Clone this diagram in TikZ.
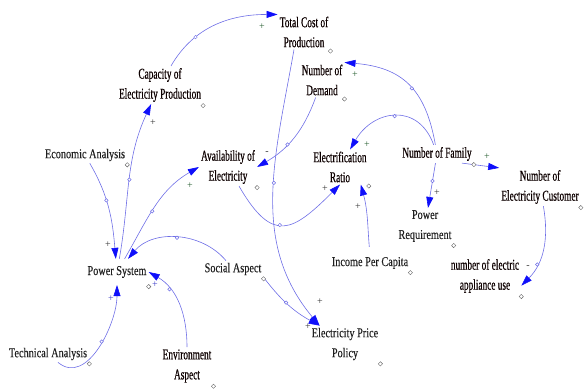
\documentclass[tikz,border=0pt]{standalone}
\usepackage{fontspec}
\setmainfont{Liberation Serif}
\newfontfamily\plainlab{Liberation Serif}[FakeStretch=0.76,FakeBold=0.15]
\newfontfamily\darklab{Liberation Serif}[FakeStretch=0.62,FakeBold=0.5]
\usetikzlibrary{arrows.meta,shapes.geometric}
\definecolor{linkblue}{RGB}{110,110,230}
\definecolor{headblue}{RGB}{15,15,250}
\definecolor{plusgreen}{RGB}{40,95,50}
\definecolor{plusblue}{RGB}{60,60,200}

\begin{document}
\begin{tikzpicture}[x=1pt,y=1pt]
    \tikzstyle{var} = [inner sep=2pt, align=center, text=black!88, font=\plainlab\fontsize{13.5}{20}\selectfont]
    \tikzstyle{vard} = [var, text=black!95!red, font=\darklab\fontsize{15}{20}\selectfont]
    \tikzstyle{link} = [draw=linkblue, line width=0.6pt, -{Triangle[length=11pt,width=7pt,color=headblue]}]
    \tikzstyle{mid} = [circle, draw=linkblue, fill=white, inner sep=0pt, minimum size=3.5pt, line width=0.5pt]
    \tikzstyle{dia} = [diamond, draw=black!60, fill=white, inner sep=0pt, minimum size=4.5pt, line width=0.4pt]
    \tikzstyle{pol} = [inner sep=0pt, font=\fontsize{10}{10}\selectfont]
    \useasboundingbox (0,0) rectangle (584,390);
    \node[vard](tcp) at (304,358){Total Cost of\\Production};
    \node[vard](cap) at (160,305){Capacity of\\Electricity Production};
    \node[vard](dem) at (322,310){Number of\\Demand};
    \node[var](eco) at (85,235){Economic Analysis};
    \node[vard](avail) at (228,223){Availability of\\Electricity};
    \node[vard](ratio) at (340,223){Electrification\\Ratio};
    \node[vard](fam) at (437,236){Number of Family};
    \node[vard](cust) at (540,203){Number of\\Electricity Customer};
    \node[var](preq) at (425,164){Power\\Requirement};
    \node[var](inc) at (370,127){Income Per Capita};
    \node[vard](app) at (485,114){number of electric\\appliance use};
    \node[var, inner ysep=7pt](ps) at (117,118){Power System};
    \node[var](soc) at (233,121){Social Aspect};
    \node[var](tech) at (48,36){Technical Analysis};
    \node[vard](env) at (187,24){Environment\\Aspect};
    \node[var](price) at (345,46){Electricity Price\\Policy};
    \draw[link] (cap) to[out=60,in=180] node[mid,pos=0.3]{} (tcp.north west);
    \draw[link] (ps) to[out=80,in=245] node[mid,pos=0.5]{} (cap);
    \draw[link] (eco) to[out=-60,in=95] node[mid,pos=0.4]{} (ps);
    \draw[link] (ps) to[out=60,in=210] node[mid,pos=0.45]{} (avail.west);
    \draw[link] (soc) to[out=130,in=50] node[mid,pos=0.5]{} (ps);
    \draw[link] (env) to[out=90,in=-30] node[mid,pos=0.7]{} (ps.east);
    \draw[link] (tech) to[out=-40,in=-90] node[mid,pos=0.55]{} (ps);
    \draw[link] ([xshift=-10pt]tcp.south) to[out=-100,in=130] node[mid,pos=0.45]{} ([xshift=10pt]price.north west);
    \draw[link] (soc.south east) to[bend right=12] node[mid,pos=0.45]{} ([xshift=10pt]price.north west);
    \draw[link] (dem) to[out=-110,in=30] node[mid,pos=0.6]{} (avail.east);
    \draw[link] (avail) to[out=-60,in=225,looseness=1.7] node[mid,pos=0.45]{} (ratio.south);
    \draw[link, shorten <=8pt] (inc.north) to[out=95,in=-75] ([xshift=-8pt]ratio.south east);
    \draw[link] (fam) to[out=110,in=60,looseness=1.4] node[mid,pos=0.5]{} (ratio);
    \draw[link] (fam) to[out=100,in=-5,looseness=1.2] node[mid,pos=0.45]{} (dem.north east);
    \draw[link] (fam) -- node[mid,pos=0.4]{} (preq);
    \draw[link] ([xshift=-12pt]fam.south east) -- (cust.north west);
    \draw[link] (cust) to[out=-80,in=45] node[mid,pos=0.7]{} (app.-15);
    \foreach \n in {tcp,cap,dem,eco,avail,ratio,fam,cust,preq,inc,app,ps,soc,tech,env,price}
        \node[dia](d-\n) at ([yshift=-1.5pt]\n.south east){};
    \foreach \x/\y/\s/\c [count=\i] in {262/363/+/plusgreen, 153/267/+/black!80, 108/145/+/black!80, 190/204/+/plusgreen, 155/105/+/plusblue, 111/91/+/plusblue, 320/88/+/black!80, 308/63/+/black!80, 267/237/-/black!80, 325/201/+/black!80, 358/183/+/black!80, 367/245/+/plusgreen, 355/315/+/plusgreen, 437/197/+/black!80, 487/233/+/plusgreen, 528/123/-/black!80}
        \node[pol, text=\c](s\i) at (\x,\y){\s};
\end{tikzpicture}
\end{document}
